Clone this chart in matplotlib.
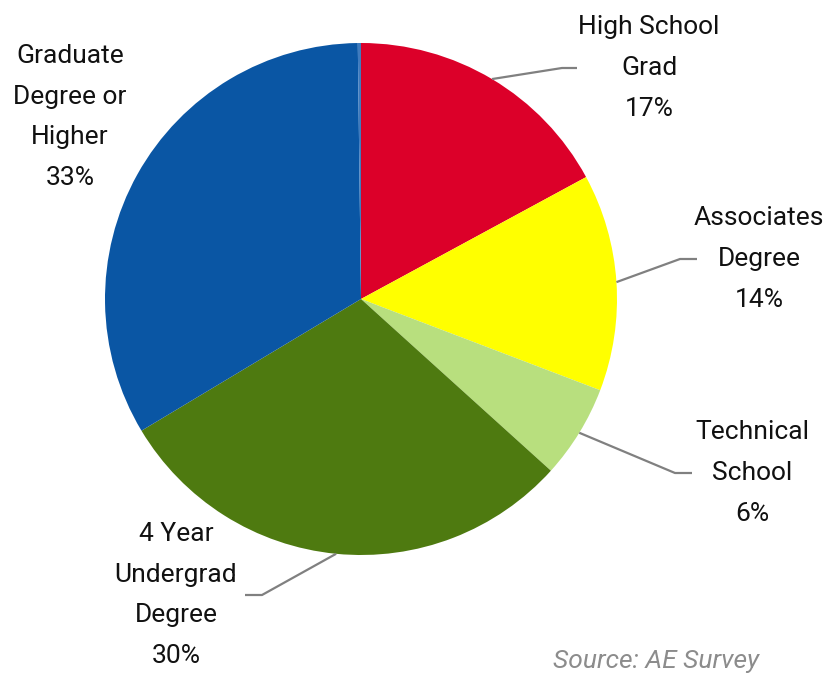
import numpy as np
import matplotlib
matplotlib.use("Agg")
import matplotlib.pyplot as plt

# ---- data ----
categories = ["High School\nGrad", "Associates\nDegree", "Technical\nSchool",
              "4 Year\nUndergrad\nDegree", "Graduate\nDegree or\nHigher", ""]
shares = [17.1, 13.7, 5.9, 29.7, 33.4, 0.2]
pct_labels = ["17%", "14%", "6%", "30%", "33%", ""]
colors = ["#DC0029", "#FFFF00", "#B8DF7E", "#4E7A10", "#0A56A4", "#3F7BBE"]

W, H = 830, 676
fig = plt.figure(figsize=(W / 100, H / 100), dpi=100)
ax = fig.add_axes([0, 0, 1, 1])

def Y(y):
    return H - y

cx, cy, R = 361, 299, 256
wedges, _ = ax.pie(shares, colors=colors, startangle=90, counterclock=False,
                   center=(cx, Y(cy)), radius=R,
                   wedgeprops=dict(linewidth=0))
ax.set_xlim(0, W)
ax.set_ylim(0, H)
ax.set_aspect("equal")
ax.axis("off")

fam = ["Liberation Sans Narrow", "Roboto", "Liberation Sans", "DejaVu Sans"]
fs = 19
# label layout: (text center x, text center y, elbow x, elbow end x)
layout = [
    (649, 68, 562, 577),
    (759, 259, 680, 697),
    (752, 473, 675, 692),
    (176, 595, 262, 245),
    (70, 117, None, None),
    None,
]
for w, cat, pct, lay in zip(wedges, categories, pct_labels, layout):
    if lay is None:
        continue
    tx, ty, ex, ee = lay
    ax.text(tx, Y(ty), cat + "\n" + pct, ha="center", va="center",
            fontsize=fs, family=fam, linespacing=1.88, color="#111111")
    if ex is not None:
        mid = np.deg2rad((w.theta1 + w.theta2) / 2)
        sx = cx + R * np.cos(mid)
        sy = Y(cy) + R * np.sin(mid)
        ax.plot([sx, ex, ee], [sy, Y(ty), Y(ty)], color="#808080", lw=1.6,
                solid_capstyle="butt")

ax.text(553, Y(673), "Source: AE Survey", ha="left", va="bottom", fontsize=fs,
        family=fam, style="italic", color="#8c8c8c")

fig.savefig("out.png", dpi=100)
